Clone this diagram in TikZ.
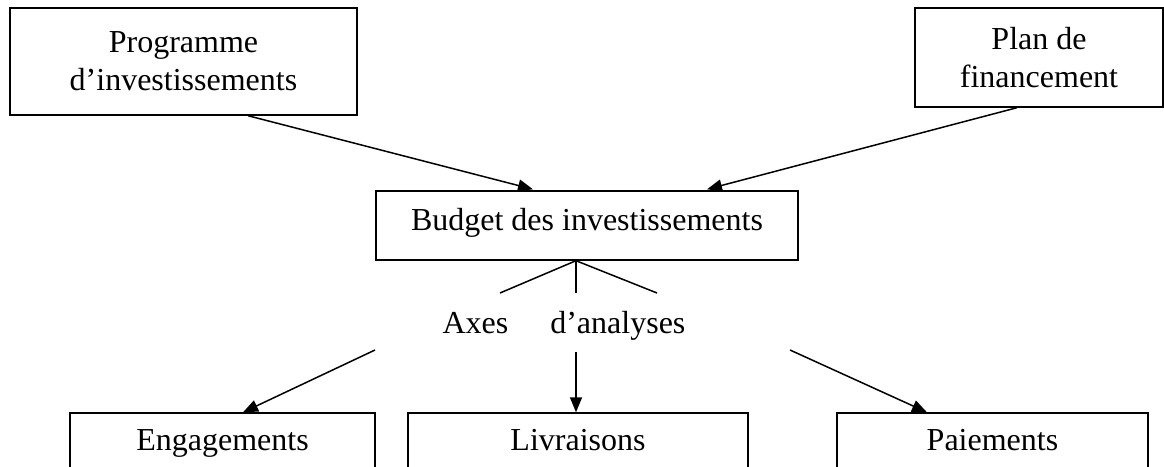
\documentclass[tikz,border=0pt]{standalone}
\usepackage{fontspec}
\setmainfont{Liberation Serif}
\usetikzlibrary{arrows.meta}

\begin{document}
\begin{tikzpicture}[x=1pt,y=-1pt,
  every node/.style={font=\fontsize{32}{38}\selectfont},
  box/.style={draw, line width=1.4pt, inner sep=0pt, align=center},
  onebox/.style={box, text height=16pt, text depth=7pt},
  link/.style={line width=1.5pt},
  arrowlink/.style={link, -{Triangle[length=15pt,width=12pt]}}
]
\useasboundingbox (0,0) rectangle (1164,466);
\clip (0,0) rectangle (1164,466);

% top row
\node[box, minimum width=347pt, minimum height=107pt] (prog) at (183.5,61.5)
  {Programme\\d’investissements};
\node[box, minimum width=248pt, minimum height=99pt] (plan) at (1039,57.5)
  {Plan de\\financement};

% central budget
\node[onebox, minimum width=422pt, minimum height=69pt] (budget) at (587,225.5)
  {Budget des investissements};

% bottom row
\node[onebox, minimum width=305pt, minimum height=66pt] (engag) at (222.5,446)
  {Engagements};
\node[onebox, minimum width=340pt, minimum height=66pt] (livr) at (578,446)
  {Livraisons};
\node[onebox, minimum width=311pt, minimum height=66pt] (paie) at (992.5,446)
  {Paiements};

% analysis label
\node[anchor=base, inner sep=0pt] (axes) at (564,333) {Axes\hspace{42pt}d’analyses};

% feeding arrows
\draw[arrowlink] ([xshift=64.5pt]prog.south) -- ([xshift=-54pt,yshift=1pt]budget.north);
\draw[arrowlink] ([xshift=-22pt]plan.south) -- ([xshift=120pt,yshift=1pt]budget.north);

% branching towards the analysis axes
\coordinate (junc) at ([xshift=-11pt]budget.south);
\coordinate (upL) at (500,293);
\coordinate (upM) at (576,293);
\coordinate (upR) at (657,293);
\coordinate (loL) at (375,350);
\coordinate (loM) at (576,352);
\coordinate (loR) at (790,350);

\draw[link] (junc) -- (upL);
\draw[link] (junc) -- (upM);
\draw[link] (junc) -- (upR);

\draw[arrowlink] (loL) -- ([xshift=20.5pt]engag.north);
\draw[arrowlink] (loM) -- ([xshift=-2pt]livr.north);
\draw[arrowlink] (loR) -- ([xshift=-65.5pt]paie.north);
\end{tikzpicture}
\end{document}
